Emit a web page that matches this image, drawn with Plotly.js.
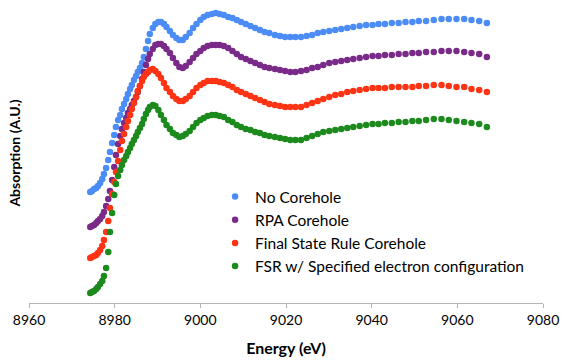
<!DOCTYPE html>
<html>
<head>
<meta charset="utf-8">
<script src="https://cdn.plot.ly/plotly-3.0.1.min.js"></script>
<style>
  html, body { margin: 0; padding: 0; background: #ffffff; }
  #chart { width: 562px; height: 360px; }
</style>
</head>
<body>
<div id="chart"></div>
<script>
// Photon energy grid (eV)
const energy = [
  8974.3, 8974.7, 8975.2, 8975.7, 8976.1, 8976.6, 8977.1, 8977.5, 8978.0, 8978.5,
  8978.9, 8979.4, 8979.9, 8980.3, 8980.8, 8981.3, 8981.7, 8982.2, 8982.7, 8983.1,
  8983.6, 8984.0, 8984.5, 8985.0, 8985.4, 8985.9, 8986.4, 8986.8, 8987.3, 8987.8, 8988.2,
  8988.9, 8989.5, 8990.2, 8990.8, 8991.5, 8992.1, 8992.9, 8993.6, 8994.4, 8995.1, 8995.9, 8996.6,
  8997.5, 8998.3, 8999.1, 9000.0, 9000.8, 9001.7, 9002.7, 9003.6, 9004.5, 9005.5,
  9006.5, 9007.5, 9008.5, 9009.5, 9010.6, 9011.7, 9012.8, 9013.9, 9015.0, 9016.1,
  9017.4, 9018.6, 9019.8, 9021.0, 9022.2, 9023.5, 9024.8, 9026.1, 9027.4, 9028.7, 9030.1,
  9031.5, 9032.9, 9034.3, 9035.7, 9037.2, 9038.7, 9040.2, 9041.6, 9043.1,
  9044.7, 9046.3, 9047.9, 9049.5, 9051.0, 9052.7,
  9054.5, 9056.3, 9058.0, 9059.8, 9061.6, 9063.3, 9065.1, 9066.9
];

// Absorption (arbitrary units, curves vertically offset)
const noCorehole = [
  1.11, 1.12, 1.14, 1.15, 1.17, 1.20, 1.24, 1.29, 1.35, 1.43,
  1.51, 1.60, 1.68, 1.76, 1.83, 1.88, 1.94, 1.99, 2.04, 2.09,
  2.14, 2.18, 2.23, 2.27, 2.31, 2.35, 2.40, 2.46, 2.54, 2.62, 2.69,
  2.75, 2.79, 2.81, 2.81, 2.79, 2.76, 2.72, 2.68, 2.65, 2.63, 2.63, 2.66,
  2.70, 2.75, 2.79, 2.83, 2.86, 2.88, 2.89, 2.90, 2.89, 2.88,
  2.86, 2.85, 2.83, 2.81, 2.79, 2.77, 2.75, 2.73, 2.71, 2.70,
  2.68, 2.67, 2.66, 2.66, 2.66, 2.66, 2.67, 2.68, 2.70, 2.71, 2.72,
  2.73, 2.74, 2.75, 2.76, 2.77, 2.78, 2.78, 2.79, 2.79,
  2.80, 2.80, 2.81, 2.81, 2.82, 2.82,
  2.83, 2.84, 2.84, 2.84, 2.84, 2.83, 2.82, 2.80
];
const rpaCorehole = [
  0.76, 0.77, 0.78, 0.80, 0.82, 0.84, 0.87, 0.91, 0.97, 1.04,
  1.12, 1.23, 1.36, 1.48, 1.59, 1.67, 1.74, 1.80, 1.85, 1.90,
  1.94, 1.98, 2.02, 2.06, 2.11, 2.17, 2.24, 2.31, 2.38, 2.44, 2.49,
  2.54, 2.58, 2.59, 2.59, 2.57, 2.54, 2.50, 2.45, 2.40, 2.36, 2.35, 2.37,
  2.41, 2.45, 2.49, 2.52, 2.55, 2.57, 2.58, 2.58, 2.58, 2.57,
  2.55, 2.52, 2.49, 2.46, 2.44, 2.42, 2.40, 2.38, 2.36, 2.35,
  2.34, 2.33, 2.32, 2.31, 2.31, 2.32, 2.33, 2.35, 2.36, 2.38, 2.40,
  2.41, 2.42, 2.43, 2.44, 2.45, 2.46, 2.47, 2.47, 2.48,
  2.48, 2.49, 2.49, 2.50, 2.50, 2.51,
  2.51, 2.52, 2.52, 2.52, 2.51, 2.50, 2.49, 2.46
];
const finalStateRule = [
  0.45, 0.46, 0.47, 0.48, 0.50, 0.53, 0.57, 0.63, 0.71, 0.82,
  0.95, 1.09, 1.21, 1.31, 1.42, 1.53, 1.62, 1.69, 1.76, 1.82,
  1.88, 1.94, 2.00, 2.06, 2.12, 2.17, 2.22, 2.26, 2.29, 2.31, 2.33,
  2.34, 2.32, 2.29, 2.25, 2.20, 2.15, 2.11, 2.07, 2.04, 2.02, 2.02, 2.04,
  2.07, 2.11, 2.15, 2.18, 2.20, 2.22, 2.22, 2.22, 2.21, 2.20,
  2.18, 2.16, 2.13, 2.11, 2.09, 2.07, 2.05, 2.03, 2.01, 1.99,
  1.98, 1.97, 1.96, 1.96, 1.96, 1.96, 1.98, 2.00, 2.02, 2.04, 2.06,
  2.08, 2.09, 2.11, 2.12, 2.13, 2.14, 2.15, 2.15, 2.15,
  2.16, 2.16, 2.16, 2.16, 2.17, 2.17,
  2.18, 2.18, 2.17, 2.16, 2.16, 2.14, 2.13, 2.11
];
const fsrSpecified = [
  0.10, 0.11, 0.12, 0.14, 0.16, 0.19, 0.22, 0.27, 0.35, 0.51,
  0.71, 0.90, 1.08, 1.19, 1.27, 1.33, 1.38, 1.43, 1.47, 1.51,
  1.55, 1.59, 1.63, 1.67, 1.71, 1.75, 1.79, 1.84, 1.89, 1.93, 1.96,
  1.98, 1.97, 1.93, 1.88, 1.83, 1.78, 1.74, 1.70, 1.68, 1.66, 1.67, 1.69,
  1.72, 1.76, 1.80, 1.83, 1.85, 1.87, 1.88, 1.88, 1.87, 1.86,
  1.83, 1.81, 1.78, 1.76, 1.74, 1.73, 1.71, 1.70, 1.68, 1.67,
  1.66, 1.65, 1.64, 1.63, 1.63, 1.63, 1.65, 1.67, 1.69, 1.71, 1.72,
  1.73, 1.74, 1.75, 1.76, 1.77, 1.78, 1.79, 1.79, 1.80,
  1.80, 1.81, 1.81, 1.82, 1.82, 1.83,
  1.84, 1.84, 1.83, 1.82, 1.81, 1.80, 1.79, 1.76
];

const seriesNames = [
  "No Corehole",
  "RPA Corehole",
  "Final State Rule Corehole",
  "FSR w/ Specified electron configuration"
];
const seriesValues = [noCorehole, rpaCorehole, finalStateRule, fsrSpecified];
const seriesColors = ["#4b8cf6", "#7a2a88", "#ff3414", "#1c8a1c"];

const xTicks = [8960, 8980, 9000, 9020, 9040, 9060, 9080];

const traces = seriesNames.map((name, i) => ({
  type: "scatter",
  mode: "markers",
  name: name,
  x: energy,
  y: seriesValues[i],
  marker: { color: seriesColors[i], size: 6.5, line: { width: 0 } },
  hoverinfo: "x+y+name"
}));

const layout = {
  width: 562,
  height: 360,
  margin: { l: 29, r: 19, t: 3, b: 57 },
  paper_bgcolor: "#ffffff",
  plot_bgcolor: "#ffffff",
  font: { family: "Lato, 'Open Sans', sans-serif", size: 14, color: "#000000" },
  showlegend: true,
  legend: {
    x: 0.362,
    y: 0.41,
    xanchor: "left",
    yanchor: "top",
    bgcolor: "rgba(255,255,255,0)",
    font: { family: "Lato, sans-serif", size: 15.5, color: "#000000" },
    itemwidth: 30,
    traceorder: "normal"
  },
  xaxis: {
    range: [8960, 9080],
    tickmode: "array",
    tickvals: xTicks,
    ticktext: xTicks.map(String),
    ticks: "outside",
    ticklen: 4,
    tickcolor: "#b5b5b5",
    tickwidth: 1,
    showline: true,
    linecolor: "#b5b5b5",
    linewidth: 1,
    showgrid: false,
    zeroline: false,
    tickfont: { family: "Lato, sans-serif", size: 14, color: "#000000" },
    title: { text: "<b>Energy (eV)</b>", font: { family: "Lato, sans-serif", size: 16, color: "#000000" }, standoff: 16 }
  },
  yaxis: {
    range: [0, 3],
    showticklabels: false,
    ticks: "",
    showline: false,
    showgrid: false,
    zeroline: false,
    title: { text: "<b>Absorption (A.U.)</b>", font: { family: "Lato, sans-serif", size: 14, color: "#000000" }, standoff: 4 }
  }
};

Plotly.newPlot("chart", traces, layout, { displayModeBar: false, staticPlot: true });
</script>
</body>
</html>
